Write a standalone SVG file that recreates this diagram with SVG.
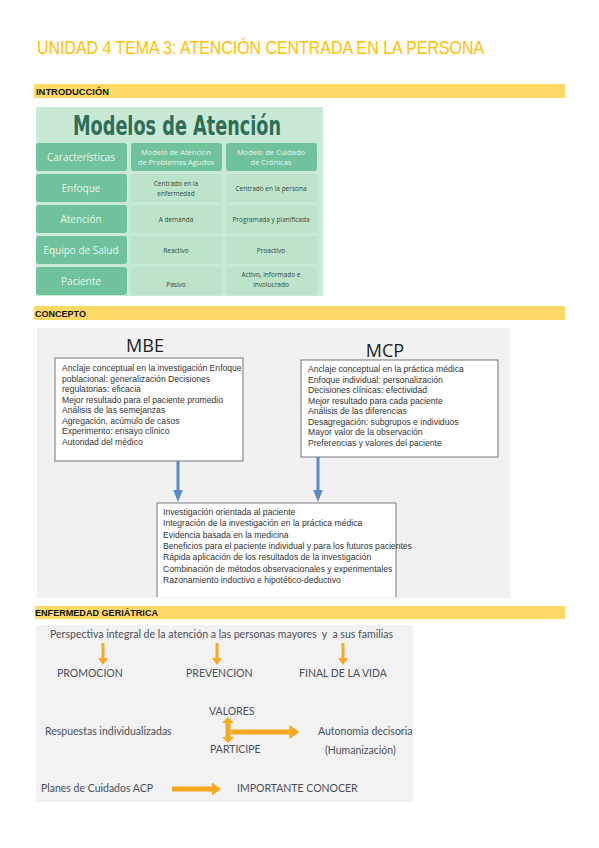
<svg xmlns="http://www.w3.org/2000/svg" width="599" height="848" viewBox="0 0 599 848">
<defs>
<style>
.title{font-family:"Liberation Sans",Arial,sans-serif;font-size:17.5px;fill:#FFC000}
.bar{fill:#FFD966}
.bartxt{font-family:"Liberation Sans",Arial,sans-serif;font-size:8.5px;font-weight:bold;fill:#111}
.dark{fill:#6FC29B}
.light{fill:#BDE3CB}
.lab{font-family:"Open Sans","Liberation Sans",sans-serif;font-size:10px;fill:#E8F6EE;text-anchor:middle}
.hdr{font-family:"Open Sans","Liberation Sans",sans-serif;font-size:7.5px;fill:#E8F6EE;text-anchor:middle}
.cell{font-family:"Open Sans","Liberation Sans",sans-serif;font-size:6.5px;fill:#2F4A3C;text-anchor:middle}
.box{fill:#fff;stroke:#777;stroke-width:1}
.bt{font-family:"Liberation Sans",Arial,sans-serif;font-size:8.6px;fill:#333}
.big{font-family:"Open Sans","Liberation Sans",sans-serif;font-size:18px;fill:#222}
.g{font-family:"Lato","Liberation Sans",sans-serif;font-size:10.5px;fill:#4A4F5A;white-space:pre}
.blue{stroke:#5B8BC6;stroke-width:3;fill:none}
.org{fill:#F4A921}
</style>
<marker id="bh" markerWidth="4" markerHeight="4" refX="2" refY="2" orient="auto" markerUnits="strokeWidth">
<path d="M0,0.4 L4,2 L0,3.6 Z" fill="#5B8BC6"/>
</marker>
</defs>
<rect width="599" height="848" fill="#fff"/>

<text class="title" x="37" y="54" textLength="447" lengthAdjust="spacingAndGlyphs">UNIDAD 4 TEMA 3: ATENCIÓN CENTRADA EN LA PERSONA</text>

<g id="bar-intro">
<rect class="bar" x="34" y="84" width="531" height="14"/>
<text class="bartxt" x="36" y="94.5" textLength="73" lengthAdjust="spacingAndGlyphs">INTRODUCCIÓN</text>
</g>

<g id="tabla-modelos">
<rect x="36" y="107" width="287" height="189" fill="#C9E9D7"/>
<text x="177" y="135" font-family="'DejaVu Sans','Liberation Sans',sans-serif" font-weight="bold" font-size="27" fill="#2E6E56" text-anchor="middle" textLength="208" lengthAdjust="spacingAndGlyphs">Modelos de Atención</text>
<rect class="dark" x="36" y="143" width="91" height="28" rx="3"/>
<rect class="dark" x="131" y="143" width="91" height="28" rx="3"/>
<rect class="dark" x="226" y="143" width="91" height="28" rx="3"/>
<rect class="dark" x="36" y="174" width="91" height="28" rx="3"/>
<rect class="dark" x="36" y="205" width="91" height="28" rx="3"/>
<rect class="dark" x="36" y="236" width="91" height="28" rx="3"/>
<rect class="dark" x="36" y="267" width="91" height="28" rx="3"/>
<rect class="light" x="131" y="174" width="91" height="28" rx="3"/>
<rect class="light" x="226" y="174" width="91" height="28" rx="3"/>
<rect class="light" x="131" y="205" width="91" height="28" rx="3"/>
<rect class="light" x="226" y="205" width="91" height="28" rx="3"/>
<rect class="light" x="131" y="236" width="91" height="28" rx="3"/>
<rect class="light" x="226" y="236" width="91" height="28" rx="3"/>
<rect class="light" x="131" y="267" width="91" height="28" rx="3"/>
<rect class="light" x="226" y="267" width="91" height="28" rx="3"/>
<text class="lab" x="81" y="161">Características</text>
<text class="lab" x="81" y="192">Enfoque</text>
<text class="lab" x="81" y="223">Atención</text>
<text class="lab" x="81" y="254">Equipo de Salud</text>
<text class="lab" x="81" y="285">Paciente</text>
<text class="hdr" x="176" y="155">Modelo de Atencion</text>
<text class="hdr" x="176" y="165">de Problemas Agudos</text>
<text class="hdr" x="271" y="155">Modelo de Cuidado</text>
<text class="hdr" x="271" y="165">de Crónicas</text>
<text class="cell" x="176" y="186">Centrado en la</text>
<text class="cell" x="176" y="196">enfermedad</text>
<text class="cell" x="271" y="191">Centrado en la persona</text>
<text class="cell" x="176" y="222">A demanda</text>
<text class="cell" x="271" y="222">Programada y planificada</text>
<text class="cell" x="176" y="253">Reactivo</text>
<text class="cell" x="271" y="253">Proactivo</text>
<text class="cell" x="176" y="287">Pasivo</text>
<text class="cell" x="271" y="277">Activo, informado e</text>
<text class="cell" x="271" y="287">involucrado</text>
</g>

<g id="bar-concepto">
<rect class="bar" x="34" y="306" width="531" height="14"/>
<text class="bartxt" x="35" y="316.5" textLength="51" lengthAdjust="spacingAndGlyphs">CONCEPTO</text>
</g>

<rect x="37" y="328" width="473" height="270" fill="#F1F1F1"/>

<g id="mbe">
<text class="big" x="145" y="352" text-anchor="middle">MBE</text>
<rect class="box" x="55" y="358" width="188" height="103"/>
<text class="bt" x="62" y="371">Anclaje conceptual en la investigación Enfoque</text>
<text class="bt" x="62" y="381.5">poblacional: generalización Decisiones</text>
<text class="bt" x="62" y="392">regulatorias: eficacia</text>
<text class="bt" x="62" y="402.5">Mejor resultado para el paciente promedio</text>
<text class="bt" x="62" y="413">Análisis de las semejanzas</text>
<text class="bt" x="62" y="423.5">Agregación, acúmulo de casos</text>
<text class="bt" x="62" y="434">Experimento: ensayo clínico</text>
<text class="bt" x="62" y="444.5">Autoridad del médico</text>
</g>

<g id="mcp">
<text class="big" x="385" y="357" text-anchor="middle">MCP</text>
<rect class="box" x="301" y="360" width="197" height="97"/>
<text class="bt" x="308" y="372">Anclaje conceptual en la práctica médica</text>
<text class="bt" x="308" y="382.5">Enfoque individual: personalización</text>
<text class="bt" x="308" y="393">Decisiones clínicas: efectividad</text>
<text class="bt" x="308" y="403.5">Mejor resultado para cada paciente</text>
<text class="bt" x="308" y="414">Análisis de las diferencias</text>
<text class="bt" x="308" y="424.5">Desagregación: subgrupos e individuos</text>
<text class="bt" x="308" y="435">Mayor valor de la observación</text>
<text class="bt" x="308" y="445.5">Preferencias y valores del paciente</text>
</g>

<g id="comun">
<path d="M157,597 V503 H396 V597" fill="#fff" stroke="#777" stroke-width="1"/>
<text class="bt" x="163" y="515">Investigación orientada al paciente</text>
<text class="bt" x="163" y="526.3">Integración de la investigación en la práctica médica</text>
<text class="bt" x="163" y="537.6">Evidencia basada en la medicina</text>
<text class="bt" x="163" y="548.9">Beneficios para el paciente individual y para los futuros pacientes</text>
<text class="bt" x="163" y="560.2">Rápida aplicación de los resultados de la investigación</text>
<text class="bt" x="163" y="571.5">Combinación de métodos observacionales y experimentales</text>
<text class="bt" x="163" y="582.8">Razonamiento inductivo e hipotético-deductivo</text>
</g>

<g id="conectores-concepto">
<line class="blue" x1="178" y1="461" x2="178" y2="496" marker-end="url(#bh)"/>
<line class="blue" x1="318" y1="457" x2="318" y2="496" marker-end="url(#bh)"/>
</g>

<g id="bar-enfermedad">
<rect class="bar" x="35" y="606" width="530" height="13"/>
<text class="bartxt" x="35" y="616" textLength="123" lengthAdjust="spacingAndGlyphs">ENFERMEDAD GERIÁTRICA</text>
</g>

<rect x="36" y="625" width="377" height="177" fill="#F2F2F2"/>

<g id="perspectiva"><text class="g" x="50" y="638" textLength="343" lengthAdjust="spacingAndGlyphs">Perspectiva integral de la atención a las personas mayores  y  a sus familias</text></g>
<g id="promocion"><text class="g" x="57" y="677">PROMOCION</text></g>
<g id="prevencion"><text class="g" x="186" y="677">PREVENCION</text></g>
<g id="final"><text class="g" x="299" y="677">FINAL DE LA VIDA</text></g>
<g id="valores"><text class="g" x="209" y="715">VALORES</text></g>
<g id="respuestas"><text class="g" x="45" y="735">Respuestas individualizadas</text></g>
<g id="participe"><text class="g" x="210" y="753">PARTICIPE</text></g>
<g id="autonomia"><text class="g" x="318" y="735">Autonomia decisoria</text><text class="g" x="325" y="754">(Humanización)</text></g>
<g id="planes"><text class="g" x="41" y="792">Planes de Cuidados ACP</text></g>
<g id="importante"><text class="g" x="237" y="792">IMPORTANTE CONOCER</text></g>

<g id="conectores-geriatrica">
<path class="org" d="M101.5,643 h3 v15 h3.5 l-5,7 l-5,-7 h3.5 z"/>
<path class="org" d="M215.5,643 h3 v15 h3.5 l-5,7 l-5,-7 h3.5 z"/>
<path class="org" d="M341.5,643 h3 v15 h3.5 l-5,7 l-5,-7 h3.5 z"/>
<path class="org" d="M228,717 l6,6 h-3.5 v14 h3.5 l-6,6 l-6,-6 h3.5 v-14 h-3.5 z"/>
<path class="org" d="M230.5,729.5 h59 v-4.5 l10,7 l-10,7 v-4.5 h-59 z"/>
<path class="org" d="M172,786.5 h40 v-4 l9,6.5 l-9,6.5 v-4 h-40 z"/>
</g>
</svg>
